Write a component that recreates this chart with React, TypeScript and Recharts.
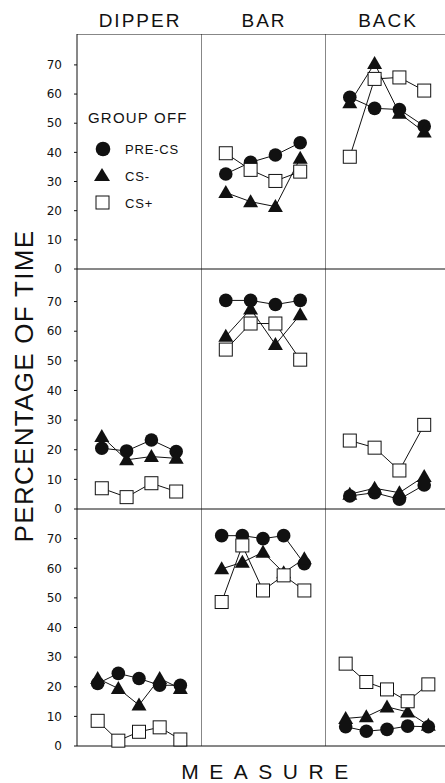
import React from 'react';
import { LineChart, Line, XAxis, YAxis, ReferenceLine, Legend } from 'recharts';

// 3 x 3 grid of small panels: rows = three measurement blocks, columns = location.
const COLUMNS = ['DIPPER', 'BAR', 'BACK'];
const Y_TICKS = [0, 10, 20, 30, 40, 50, 60, 70];
const X_FOUR = [1, 2, 3, 4];
const X_FIVE = [1, 2, 3, 4, 5];
const LEGEND_TITLE = 'GROUP OFF';
const SERIES_NAMES = ['PRE-CS', 'CS-', 'CS+'];

// row 1
const R1_BAR_PRE = [32.6, 36.6, 39.1, 43.3];
const R1_BAR_MINUS = [26.2, 23.1, 21.4, 38];
const R1_BAR_PLUS = [39.7, 34, 30.2, 33.4];
const R1_BACK_PRE = [58.9, 55.1, 54.7, 49];
const R1_BACK_MINUS = [57, 70.5, 53.4, 47];
const R1_BACK_PLUS = [38.5, 65.2, 65.7, 61.2];

// row 2
const R2_DIP_PRE = [20.5, 19.6, 23.3, 19.4];
const R2_DIP_MINUS = [24.5, 16.6, 17.7, 17.1];
const R2_DIP_PLUS = [7, 4, 8.7, 5.9];
const R2_BAR_PRE = [70.4, 70.4, 69, 70.4];
const R2_BAR_MINUS = [58.3, 67.5, 55.5, 65.6];
const R2_BAR_PLUS = [53.8, 62.6, 62.6, 50.4];
const R2_BACK_PRE = [4.4, 5.5, 3.3, 8.1];
const R2_BACK_MINUS = [5, 7, 5.5, 11];
const R2_BACK_PLUS = [23.1, 20.7, 13, 28.4];

// row 3
const R3_DIP_PRE = [21.1, 24.5, 22.8, 20.5, 20.5];
const R3_DIP_MINUS = [22.8, 19.4, 13.8, 22.8, 19.4];
const R3_DIP_PLUS = [8.5, 1.8, 4.8, 6.3, 2.2];
const R3_BAR_PRE = [71, 71, 70, 71, 61.5];
const R3_BAR_MINUS = [59.8, 62, 65.4, 58.5, 63.2];
const R3_BAR_PLUS = [48.6, 67.7, 52.5, 57.6, 52.5];
const R3_BACK_PRE = [6.5, 5, 5.6, 6.7, 6.5];
const R3_BACK_MINUS = [9.3, 9.9, 13.2, 11.5, 7];
const R3_BACK_PLUS = [27.8, 21.6, 19.1, 15.1, 20.8];

const INK = '#111';
const FONT = '"Liberation Sans", Arial, sans-serif';
const PANEL_W = 124;
const AXIS_W = 77;
const X_AXIS_H = 10;
const COL_LEFT = [77, 201, 325];
const ROWS = [
  { top: 34, height: 235, yMax: 80.6 },
  { top: 269, height: 240, yMax: 81 },
  { top: 509, height: 237, yMax: 80 },
];

const circleDot = (p: any) =>
  p.cx == null || p.cy == null ? null : <circle key={`c${p.index}`} cx={p.cx} cy={p.cy} r={6.8} fill={INK} />;
const triangleDot = (p: any) =>
  p.cx == null || p.cy == null ? null : (
    <path
      key={`t${p.index}`}
      d={`M${p.cx},${p.cy - 7.5} L${p.cx + 7.5},${p.cy + 5.5} L${p.cx - 7.5},${p.cy + 5.5} Z`}
      fill={INK}
    />
  );
const squareDot = (p: any) =>
  p.cx == null || p.cy == null ? null : (
    <rect key={`s${p.index}`} x={p.cx - 6.5} y={p.cy - 6.5} width={13} height={13} fill="#fff" stroke={INK} strokeWidth={1} />
  );

function LegendBox() {
  return (
    <svg width={130} height={112} style={{ display: 'block', fontFamily: FONT }}>
      <text x={6} y={23} fontSize={15} letterSpacing={1.2} fill={INK}>
        {LEGEND_TITLE}
      </text>
      <circle cx={21} cy={49} r={7.3} fill={INK} />
      <path d="M20,68 L28,81 L12,81 Z" fill={INK} />
      <rect x={14} y={96} width={13} height={13} fill="#fff" stroke={INK} />
      {SERIES_NAMES.map((n, i) => (
        <text key={n} x={43} y={54 + i * 27} fontSize={13} letterSpacing={0.8} fill={INK}>
          {n}
        </text>
      ))}
    </svg>
  );
}

interface PanelProps {
  row: number;
  col: number;
  xs: number[];
  pre?: number[];
  minus?: number[];
  plus?: number[];
  legend?: boolean;
}

function Panel({ row, col, xs, pre = [], minus = [], plus = [], legend }: PanelProps) {
  const r = ROWS[row];
  const yW = col === 0 ? AXIS_W : 0;
  const data = xs.map((x, i) => ({ x, pre: pre[i], minus: minus[i], plus: plus[i] }));
  const xDomain = [0, xs.length + 1];
  const yDomain = [0, r.yMax];
  // the legend panel carries no values, so its axes must take the fixed domain as is
  const fixed = !!legend;
  return (
    <div style={{ position: 'absolute', left: COL_LEFT[col] - yW, top: r.top }}>
      <LineChart
        width={PANEL_W + yW}
        height={r.height + X_AXIS_H}
        data={data}
        margin={{ top: 0, right: 0, bottom: 0, left: 0 }}
      >
        <XAxis
          type="number"
          dataKey="x"
          domain={xDomain}
          allowDataOverflow={fixed}
          ticks={xs}
          tick={false}
          tickSize={3}
          height={X_AXIS_H}
          axisLine={{ stroke: INK }}
          tickLine={{ stroke: INK }}
        />
        {/* inward half of the crossing tick marks */}
        <XAxis
          xAxisId="in"
          type="number"
          dataKey="x"
          domain={xDomain}
          allowDataOverflow
          ticks={xs}
          tick={false}
          tickSize={3}
          mirror
          axisLine={false}
          tickLine={{ stroke: INK }}
        />
        <YAxis
          type="number"
          domain={yDomain}
          allowDataOverflow={fixed}
          ticks={Y_TICKS}
          interval={0}
          width={yW}
          hide={col !== 0}
          tick={{ fontSize: 12, fill: INK, fontFamily: '"DejaVu Sans", sans-serif' }}
          tickSize={3}
          tickMargin={12}
          axisLine={{ stroke: INK }}
          tickLine={{ stroke: INK }}
        />
        {col === 0 && (
          <YAxis
            yAxisId="in"
            type="number"
            domain={yDomain}
            allowDataOverflow
            ticks={Y_TICKS}
            interval={0}
            tick={false}
            tickSize={3}
            mirror
            axisLine={false}
            tickLine={{ stroke: INK }}
          />
        )}
        {col !== 0 && <ReferenceLine x={0} stroke={INK} />}
        {row === 0 && <ReferenceLine y={r.yMax} stroke={INK} />}
        <Line dataKey="pre" name={SERIES_NAMES[0]} stroke={INK} strokeWidth={1} dot={circleDot} isAnimationActive={false} />
        <Line dataKey="minus" name={SERIES_NAMES[1]} stroke={INK} strokeWidth={1} dot={triangleDot} isAnimationActive={false} />
        <Line dataKey="plus" name={SERIES_NAMES[2]} stroke={INK} strokeWidth={1} dot={squareDot} isAnimationActive={false} />
        {legend && (
          <Legend
            layout="horizontal"
            verticalAlign="middle"
            align="center"
            content={<LegendBox />}
            wrapperStyle={{ left: 82, top: 66, width: 130 }}
          />
        )}
      </LineChart>
    </div>
  );
}

export default function App() {
  return (
    <div
      style={{
        position: 'absolute',
        left: 0,
        top: 0,
        width: 445,
        height: 783,
        overflow: 'hidden',
        background: '#fff',
      }}
    >
      <svg width={445} height={783} style={{ position: 'absolute', left: 0, top: 0, fontFamily: FONT }}>
        {COLUMNS.map((c, i) => (
          <text key={c} x={COL_LEFT[i] + PANEL_W / 2 + 1} y={27} textAnchor="middle" fontSize={19} letterSpacing={2} fill={INK}>
            {c}
          </text>
        ))}
        <text x={270} y={779} textAnchor="middle" fontSize={21} letterSpacing={10.5} fill={INK}>
          MEASURE
        </text>
        <text transform="translate(33,386) rotate(-90)" textAnchor="middle" fontSize={26} letterSpacing={1.3} fill={INK}>
          PERCENTAGE OF TIME
        </text>
      </svg>

      <Panel row={0} col={0} xs={X_FOUR} legend />
      <Panel row={0} col={1} xs={X_FOUR} pre={R1_BAR_PRE} minus={R1_BAR_MINUS} plus={R1_BAR_PLUS} />
      <Panel row={0} col={2} xs={X_FOUR} pre={R1_BACK_PRE} minus={R1_BACK_MINUS} plus={R1_BACK_PLUS} />

      <Panel row={1} col={0} xs={X_FOUR} pre={R2_DIP_PRE} minus={R2_DIP_MINUS} plus={R2_DIP_PLUS} />
      <Panel row={1} col={1} xs={X_FOUR} pre={R2_BAR_PRE} minus={R2_BAR_MINUS} plus={R2_BAR_PLUS} />
      <Panel row={1} col={2} xs={X_FOUR} pre={R2_BACK_PRE} minus={R2_BACK_MINUS} plus={R2_BACK_PLUS} />

      <Panel row={2} col={0} xs={X_FIVE} pre={R3_DIP_PRE} minus={R3_DIP_MINUS} plus={R3_DIP_PLUS} />
      <Panel row={2} col={1} xs={X_FIVE} pre={R3_BAR_PRE} minus={R3_BAR_MINUS} plus={R3_BAR_PLUS} />
      <Panel row={2} col={2} xs={X_FIVE} pre={R3_BACK_PRE} minus={R3_BACK_MINUS} plus={R3_BACK_PLUS} />
    </div>
  );
}
